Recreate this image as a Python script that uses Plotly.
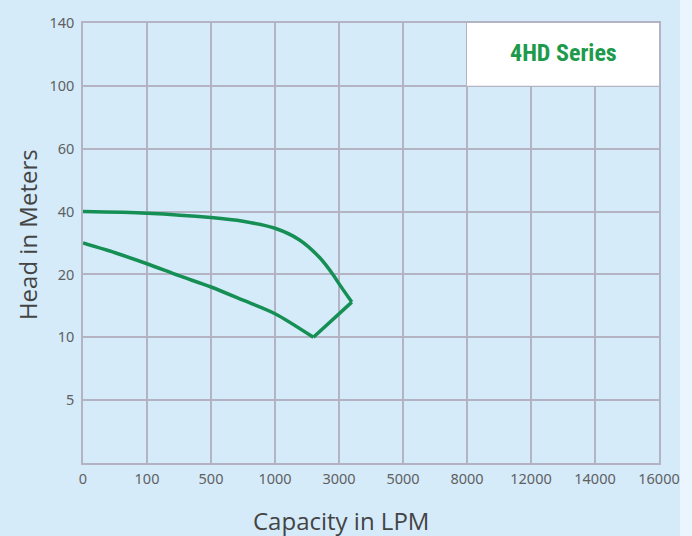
import numpy as np
import plotly.graph_objects as go

# Axis tick labels (equally spaced, non-linear scale)
x_ticks = [0, 100, 500, 1000, 3000, 5000, 8000, 12000, 14000, 16000]
y_ticks = [0, 5, 10, 20, 40, 60, 100, 140]

# Performance envelope (Capacity LPM, Head m)
upper_capacity = [0, 100, 500, 750, 1000, 1780, 2400, 2810, 3030, 3400]
upper_head = [40, 39.5, 38.1, 36.9, 34.7, 30.9, 25.3, 20, 18.3, 15.6]
edge_capacity = [3400, 2200]
edge_head = [15.6, 10]
lower_capacity = [2200, 1000, 750, 500, 300, 100, 50, 0]
lower_head = [10, 13.75, 15.9, 18, 19.8, 23.4, 26.9, 30]

series_label = "4HD Series"

x_idx = np.arange(len(x_ticks))
y_idx = np.arange(len(y_ticks))


def to_pos(cap, hd):
    # map real values onto the equally spaced chart scale
    return np.interp(cap, x_ticks, x_idx), np.interp(hd, y_ticks, y_idx)


BG = "#d5ebfa"
STRIP = "#eaf5fd"
GRID = "#b3b3c3"
GREEN = "#168f55"
TXT = "#606060"

fig = go.Figure()
for cap, hd, shape in [(upper_capacity, upper_head, "spline"),
                       (edge_capacity, edge_head, "linear"),
                       (lower_capacity, lower_head, "spline")]:
    xp, yp = to_pos(cap, hd)
    fig.add_trace(go.Scatter(x=xp, y=yp, mode="lines",
                             line=dict(color=GREEN, width=3.5, shape=shape, smoothing=0.8),
                             hoverinfo="skip", showlegend=False))

fig.update_layout(
    width=692, height=536,
    margin=dict(l=83, r=33, t=17, b=73),
    paper_bgcolor=BG, plot_bgcolor=BG,
    font=dict(family="Noto Sans, Open Sans, sans-serif", color=TXT, size=14.5),
    xaxis=dict(range=[0, len(x_ticks) - 1], tickvals=list(x_idx),
               ticktext=[str(v) for v in x_ticks], showgrid=True, gridcolor=GRID,
               gridwidth=1.5, zeroline=False, showline=True, linecolor=GRID,
               linewidth=1.5, mirror=True, ticks="", ticklabelstandoff=2,
               fixedrange=True),
    yaxis=dict(range=[0, len(y_ticks) - 1], tickvals=list(y_idx[1:]),
               ticktext=[str(v) for v in y_ticks[1:]], showgrid=True, gridcolor=GRID,
               gridwidth=1.5, zeroline=False, showline=True, linecolor=GRID,
               linewidth=1.5, mirror=True, ticks="", ticklabelstandoff=4,
               fixedrange=True),
    shapes=[
        dict(type="rect", xref="x", yref="y", x0=6, x1=9, y0=6, y1=7,
             fillcolor="white", line=dict(width=0), layer="between"),
        dict(type="rect", xref="paper", yref="paper", x0=(680 - 83) / 576, x1=(700 - 83) / 576,
             y0=-0.2, y1=1.1, fillcolor=STRIP, line=dict(width=0), layer="above"),
    ],
    annotations=[
        dict(text="<b>" + series_label + "</b>", x=7.5, y=6.52, xref="x", yref="y",
             showarrow=False,
             font=dict(family="Liberation Sans Narrow, Roboto Condensed, Arial Narrow, sans-serif",
                       size=24, color="#1e9a4c")),
        dict(text="Capacity in LPM", x=(341 - 83) / 576, y=-(521 - 463) / 446,
             xref="paper", yref="paper", showarrow=False, yanchor="middle",
             font=dict(family="Open Sans, Noto Sans, sans-serif", size=24, color="#444444")),
        dict(text="Head in Meters", x=-(83 - 27) / 576, y=(463 - 232) / 446,
             xref="paper", yref="paper", showarrow=False, textangle=-90,
             xanchor="center", yanchor="middle",
             font=dict(family="Open Sans, Noto Sans, sans-serif", size=24, color="#444444")),
    ],
)

fig.write_html(
    "out.html",
    config={"displayModeBar": False},
    post_script="document.body.style.margin='0';document.body.style.background='" + STRIP + "';",
)
